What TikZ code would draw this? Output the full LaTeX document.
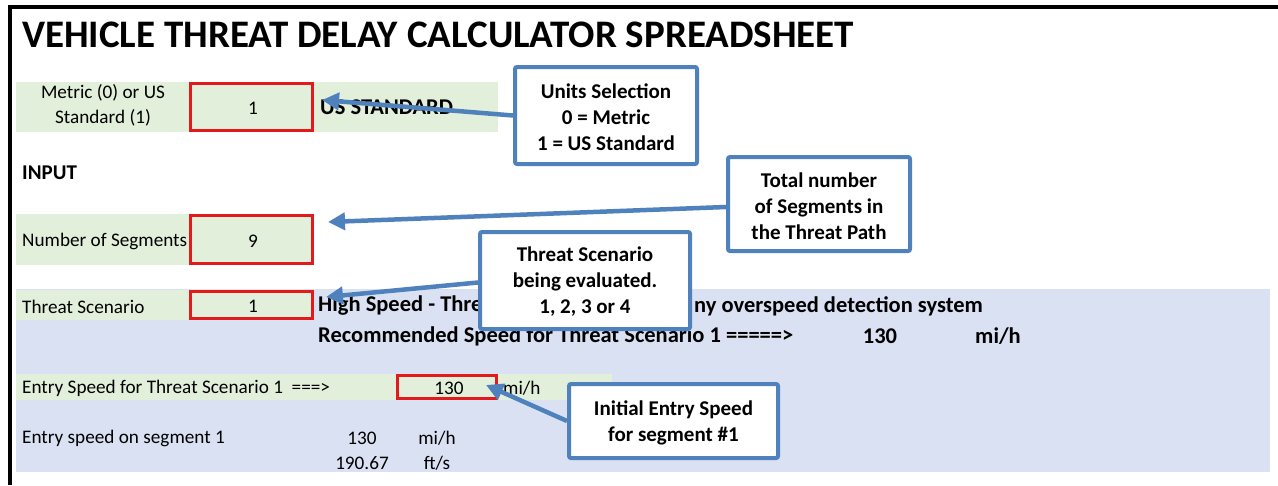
\documentclass[tikz,border=0pt]{standalone}
\usepackage{fontspec}
\setmainfont{Carlito}
\usetikzlibrary{arrows.meta}
\definecolor{cgreen}{HTML}{E2EFDA}
\definecolor{cblue}{HTML}{D9E1F2}
\definecolor{cred}{HTML}{E31A1C}
\definecolor{cline}{HTML}{4F81BD}
\begin{document}
\begin{tikzpicture}[x=1pt,y=-1pt,
  body/.style={font=\fontsize{19.2}{25}\selectfont, inner sep=0pt, yshift=-1.5pt},
  bodyb/.style={font=\fontsize{22.5}{26}\selectfont\bfseries, inner sep=0pt},
  inb/.style={font=\fontsize{21}{26}\selectfont\bfseries, inner sep=0pt},
  ttl/.style={font=\fontsize{39}{44}\selectfont\bfseries, inner sep=0pt},
  callout/.style={draw=cline, line width=4pt, fill=white, rounded corners=2pt,
    font=\fontsize{21}{26}\selectfont\bfseries, align=center, inner sep=0pt},
  ctext/.style={font=\fontsize{21}{26}\selectfont\bfseries, align=center, inner sep=0pt},
  redbox/.style={draw=cred, line width=3pt, inner sep=0pt},
  arr/.style={draw=cline, line width=4.5pt, -{Triangle[length=17pt,width=17pt]}},
  border/.style={line width=4pt, black}
]
\useasboundingbox (0,0) rectangle (1278,485);
% frame
\draw[border] (8,7) -- (1278,7);
\draw[border] (10,5) -- (10,485);
% title
\node[ttl, anchor=base west] (title) at (22,47) {VEHICLE THREAT DELAY CALCULATOR SPREADSHEET};
% bands
\fill[cblue] (16,289) rectangle (1270,472);
\fill[cgreen] (16,82) rectangle (498,132);
\fill[cgreen] (16,214) rectangle (314,265);
\fill[cgreen] (16,290) rectangle (314,320);
\fill[cgreen] (16,374) rectangle (612,400);
% red boxes
\node[redbox, minimum width=122pt, minimum height=47pt] (r1) at (251.5,107) {};
\node[redbox, minimum width=122pt, minimum height=48pt] (r2) at (251.5,239.5) {};
\node[redbox, minimum width=122pt, minimum height=27pt] (r3) at (251.5,305) {};
\node[redbox, minimum width=99pt, minimum height=23pt] (r4) at (447,387) {};
% row 1
\node[body, align=center] (l1) at (103,104) {Metric (0) or US\\Standard (1)};
\node[body] (v1) at (253,107) {1};
\node[bodyb, anchor=west] (us) at (320,107) {US STANDARD};
% input
\node[inb, anchor=west] (inp) at (22,173) {INPUT};
\node[body, anchor=west] (l2) at (22,240) {Number of Segments};
\node[body] (v2) at (253,240) {9};
\node[body, anchor=west] (l3) at (22,305) {Threat Scenario};
\node[body] (v3) at (253,305) {1};
\node[bodyb, anchor=west] (hs1) at (318,306) {High Speed - Thre};
\node[bodyb, anchor=west] (hs2) at (694,306) {ny overspeed detection system};
\node[bodyb, anchor=west] (rec) at (318,336) {Recommended Speed for Threat Scenario 1 =====>};
\node[bodyb] (recv) at (880,336) {130};
\node[bodyb, anchor=west] (recu) at (975,336) {mi/h};
\node[body, anchor=west] (l4) at (22,387) {Entry Speed for Threat Scenario 1~~===>};
\node[body] (v4) at (449,387) {130};
\node[body, anchor=west] (u4) at (503,387) {mi/h};
\node[body, anchor=west] (l5) at (22,437) {Entry speed on segment 1};
\node[body] (v5a) at (362,437) {130};
\node[body] (u5a) at (437,437) {mi/h};
\node[body] (v5b) at (362,462) {190.67};
\node[body] (u5b) at (437,462) {ft/s};
% callouts
\node[callout, minimum width=182pt, minimum height=97pt] (c1) at (606,115.5) {};
\node[ctext] (c1t) at (606,117.5) {Units Selection\\0 = Metric\\1 = US Standard};
\node[callout, minimum width=182pt, minimum height=94pt] (c2) at (819,204) {};
\node[ctext] (c2t) at (819,206) {Total number\\of Segments in\\the Threat Path};
\node[callout, minimum width=210pt, minimum height=97pt] (c3) at (585,280.5) {};
\node[ctext] (c3t) at (585,282) {Threat Scenario\\being evaluated.\\1, 2, 3 or 4};
\node[callout, minimum width=209pt, minimum height=74pt] (c4) at (673.5,421) {};
\node[ctext] (c4t) at (673.5,423) {Initial Entry Speed\\for segment \#1};
% arrow tips
\coordinate (t1) at (322,100);
\coordinate (t2) at (328,222);
\coordinate (t3) at (326,297);
\coordinate (t4) at (486,385);
\draw[arr] (c1.west) -- (t1);
\draw[arr] ([yshift=-3pt]c2.west) -- (t2);
\draw[arr] ([yshift=-2pt]c3.west) -- (t3);
\draw[arr] (c4.west) -- (t4);
\end{tikzpicture}
\end{document}
